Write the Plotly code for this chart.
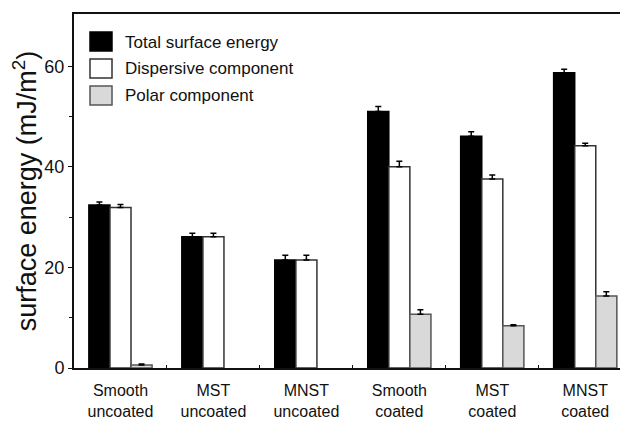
import plotly.graph_objects as go

categories = ["Smooth<br>uncoated", "MST<br>uncoated", "MNST<br>uncoated",
              "Smooth<br>coated", "MST<br>coated", "MNST<br>coated"]
total = [32.4, 26.1, 21.5, 51.0, 46.1, 58.7]
total_err = [0.6, 0.7, 0.9, 1.0, 0.9, 0.7]
dispersive = [31.9, 26.1, 21.5, 40.0, 37.6, 44.2]
dispersive_err = [0.6, 0.7, 0.9, 1.1, 0.8, 0.5]
polar = [0.6, None, None, 10.7, 8.4, 14.3]
polar_err = [0.2, None, None, 0.9, 0.2, 0.85]

series = [
    ("Total surface energy", total, total_err, "#000000", "#000000"),
    ("Dispersive component", dispersive, dispersive_err, "#ffffff", "#333333"),
    ("Polar component", polar, polar_err, "#d9d9d9", "#555555"),
]

FONT = "Liberation Sans, Arial"

fig = go.Figure()
for name, vals, errs, fill, edge in series:
    fig.add_trace(go.Bar(
        x=categories, y=vals, name=name, showlegend=False,
        marker=dict(color=fill, line=dict(color=edge, width=1.5)),
        error_y=dict(type="data", array=errs, arrayminus=[0]*len(errs), symmetric=False,
                     color="#000000", thickness=1.5, width=3, visible=True),
    ))

# The page body has an 8px margin, so the figure is drawn 8px in from the top-left.
OFF = 8
W, H = 628 - OFF, 421 - OFF
ml, mt, mb, mr = 74 - OFF, 14 - OFF, 53, 0
pw, ph = W - ml - mr, H - mt - mb
# helpers: target-screen pixel -> paper coords
def px(x): return (x - OFF - ml) / pw
def py(y): return 1 - (y - OFF - mt) / ph

shapes = []
annotations = []
rows = [32, 59, 86]
for (name, vals, errs, fill, edge), top in zip(series, rows):
    shapes.append(dict(type="rect", xref="paper", yref="paper",
                       x0=px(90), x1=px(112), y0=py(top + 19), y1=py(top),
                       fillcolor=fill, line=dict(color=edge, width=1.5)))
    annotations.append(dict(xref="paper", yref="paper", x=px(123), y=py(top + 10),
                            text=name, showarrow=False, xanchor="left", yanchor="middle",
                            font=dict(size=17, color="#111111", family=FONT)))

fig.update_layout(
    width=W, height=H,
    margin=dict(l=ml, r=mr, t=mt, b=mb, autoexpand=False),
    paper_bgcolor="white", plot_bgcolor="white",
    barmode="group", bargap=0.32, bargroupgap=0,
    font=dict(family=FONT, color="#111111"),
    shapes=shapes, annotations=annotations,
    xaxis=dict(range=[-0.5, 5.46], showline=True, linecolor="#111111", linewidth=2,
               mirror=True, ticks="inside", tickson="boundaries", ticklen=3,
               tickcolor="#111111", tickfont=dict(size=16), ticklabelstandoff=7,
               showgrid=False, automargin=False),
    yaxis=dict(range=[0, 70.4], showline=True, linecolor="#111111", linewidth=2,
               ticks="outside", ticklen=4, tickcolor="#111111",
               tickvals=[0, 20, 40, 60], tickfont=dict(size=18),
               minor=dict(tickvals=[10, 30, 50], ticks="outside", ticklen=3, tickcolor="#111111"),
               showgrid=False, zeroline=False, automargin=False,
               title=dict(text="surface energy (mJ/m<sup>2</sup>)",
                          font=dict(size=27, family=FONT), standoff=10)),
)

fig.write_html("out.html")
